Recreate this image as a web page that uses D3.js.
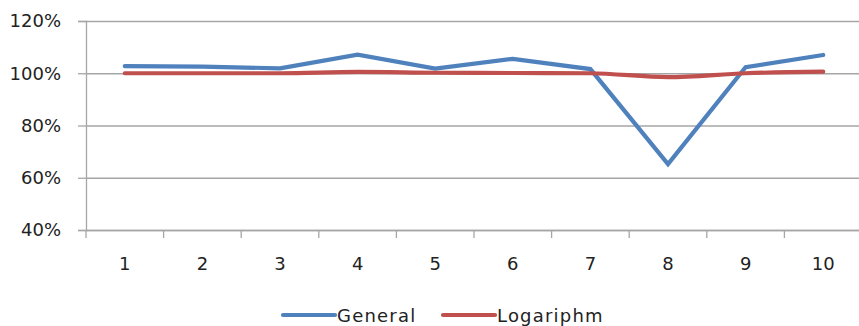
<!DOCTYPE html>
<html>
<head>
<meta charset="utf-8">
<script src="https://cdn.jsdelivr.net/npm/d3@7"></script>
<style>
  body { margin: 0; background: #fff; }
  svg { display: block; overflow: hidden; }
</style>
</head>
<body>
<div id="chart"></div>
<script>
// data
const categories = ["1", "2", "3", "4", "5", "6", "7", "8", "9", "10"];
const general = [102.7, 102.5, 101.9, 107.1, 101.8, 105.5, 101.6, 65.2, 102.3, 107.0];
const logariphm = [100.0, 100.0, 100.0, 100.5, 100.2, 100.1, 100.0, 98.5, 100.0, 100.6];
const yTicks = [40, 60, 80, 100, 120];
const seriesNames = ["General", "Logariphm"];
const seriesColors = ["#4F81BD", "#C0504D"];

const W = 859, H = 326;
const plot = {l: 86, r: 862, t: 21, b: 230};

const svg = d3.select("#chart").append("svg")
    .attr("width", W)
    .attr("height", H);

const x = d3.scaleBand().domain(categories).range([plot.l, plot.r]).padding(0);
const y = d3.scaleLinear().domain([40, 120]).range([plot.b, plot.t]);

const font = "'DejaVu Sans', Verdana, sans-serif";
const gridColor = "#A6A6A6";

// gridlines
svg.append("g")
    .attr("transform", `translate(${plot.l},0)`)
    .call(d3.axisLeft(y).tickValues(yTicks).tickSize(-(plot.r - plot.l)).tickFormat(""))
    .call(g => g.select(".domain").remove())
    .call(g => g.selectAll("line").attr("stroke", gridColor).attr("stroke-width", 1.3));

// y axis with labels
svg.append("g")
    .attr("transform", `translate(${plot.l},0)`)
    .call(d3.axisLeft(y).tickValues(yTicks).tickSize(8).tickPadding(17).tickFormat(d => d + "%"))
    .call(g => g.select(".domain").attr("stroke", gridColor).attr("stroke-width", 1.3))
    .call(g => g.selectAll("line").attr("stroke", gridColor).attr("stroke-width", 1.3))
    .call(g => g.selectAll("text")
        .attr("fill", "#222")
        .style("font-family", font)
        .style("font-size", "18px"));

// x axis: labels at band centres, ticks at band edges
const xAxis = svg.append("g")
    .attr("transform", `translate(0,${plot.b})`)
    .call(d3.axisBottom(x).tickSize(0).tickPadding(27))
    .call(g => g.select(".domain").attr("stroke", gridColor).attr("stroke-width", 1.3))
    .call(g => g.selectAll("text")
        .attr("fill", "#222")
        .style("font-family", font)
        .style("font-size", "18px"));

xAxis.selectAll(".edge")
    .data(categories)
    .enter()
    .append("line")
    .attr("class", "edge")
    .attr("x1", d => x(d))
    .attr("x2", d => x(d))
    .attr("y1", 0)
    .attr("y2", 8)
    .attr("stroke", gridColor)
    .attr("stroke-width", 1.3);

// lines
const series = [general, logariphm];
const curves = [d3.curveLinear, d3.curveMonotoneX];
series.forEach(function(vals, i) {
    const line = d3.line()
        .x((d, j) => x(categories[j]) + x.bandwidth() / 2)
        .y(d => y(d))
        .curve(curves[i]);
    svg.append("path")
        .datum(vals)
        .attr("fill", "none")
        .attr("stroke", seriesColors[i])
        .attr("stroke-width", 4.2)
        .attr("stroke-linejoin", "miter")
        .attr("stroke-linecap", "round")
        .attr("d", line);
});

// legend
const legendX = [283, 443];
const legend = svg.append("g").attr("class", "legend");
seriesNames.forEach(function(name, i) {
    const g = legend.append("g").attr("transform", `translate(${legendX[i]},315)`);
    g.append("line")
        .attr("x1", 0).attr("x2", 52)
        .attr("y1", 0).attr("y2", 0)
        .attr("stroke", seriesColors[i])
        .attr("stroke-width", 4.2)
        .attr("stroke-linecap", "round");
    g.append("text")
        .attr("x", 54)
        .attr("y", 6.5)
        .attr("fill", "#222")
        .style("font-family", font)
        .style("font-size", "18px")
        .style("letter-spacing", "1.2px")
        .text(name);
});
</script>
</body>
</html>
